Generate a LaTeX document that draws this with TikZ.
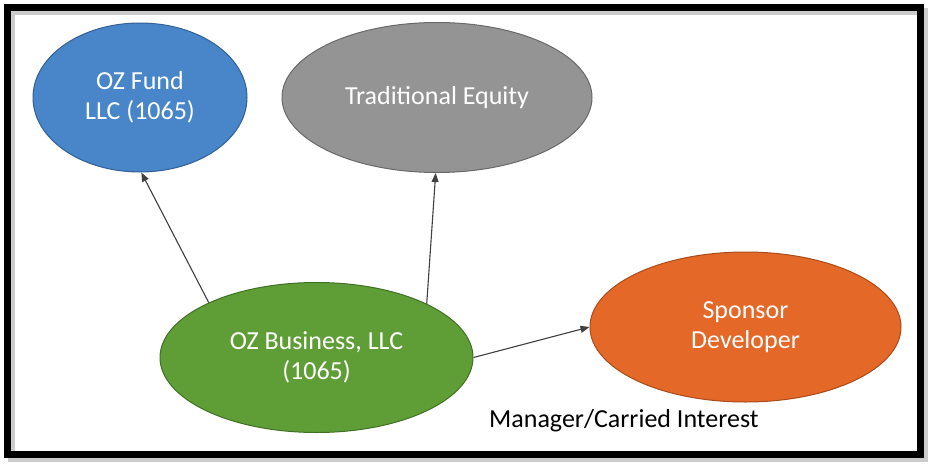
\documentclass[tikz,border=0pt]{standalone}
\usepackage{fontspec}
\setmainfont{Carlito}
\usetikzlibrary{arrows.meta,positioning,shapes.geometric}
\definecolor{fundBlue}{RGB}{72,134,201}
\definecolor{fundEdge}{RGB}{50,95,150}
\definecolor{equityGray}{RGB}{148,148,148}
\definecolor{equityEdge}{RGB}{105,105,105}
\definecolor{bizGreen}{RGB}{95,158,54}
\definecolor{bizEdge}{RGB}{65,112,36}
\definecolor{sponsorOrange}{RGB}{228,104,40}
\definecolor{sponsorEdge}{RGB}{170,75,25}
\newcommand{\ozsize}{\fontsize{26}{30}\selectfont}

\begin{document}
\begin{tikzpicture}[x=1pt,y=-1pt,
		entity/.style={ellipse,inner sep=0pt,minimum height=150pt,line width=1pt,text=white,align=center,font=\ozsize},
		link/.style={draw=black!75,line width=1.1pt,-{Triangle[length=9pt,width=7pt]}}]
		\useasboundingbox[fill=white] (0,0) rectangle (937,471);
		\draw[line width=7pt,black!20] (11.5,11.5) rectangle (924,458);
		\draw[line width=7pt] (7.5,7.5) rectangle (920,454);
		\node[entity,fill=fundBlue,draw=fundEdge,minimum width=214pt,minimum height=149pt] (fund) at (140,97.5) {OZ Fund\\LLC (1065)};
		\node[entity,fill=equityGray,draw=equityEdge,minimum width=310pt] (equity) at (437,97.5) {Traditional Equity};
		\node[entity,fill=bizGreen,draw=bizEdge,minimum width=313pt] (biz) at (316.5,357.5) {OZ Business, LLC\\(1065)};
		\node[entity,fill=sponsorOrange,draw=sponsorEdge,minimum width=311pt] (sponsor) at (745.5,327) {Sponsor\\Developer};
		\node[anchor=base west,font=\ozsize,inner sep=0pt] (mgr) at (489,427) {Manager/Carried Interest};
		\draw[link] (biz.153) -- (fund.271);
		\draw[link] (biz.26.5) -- (equity.269);
		\draw[link] (biz.0) -- (sponsor.180);
\end{tikzpicture}
\end{document}
